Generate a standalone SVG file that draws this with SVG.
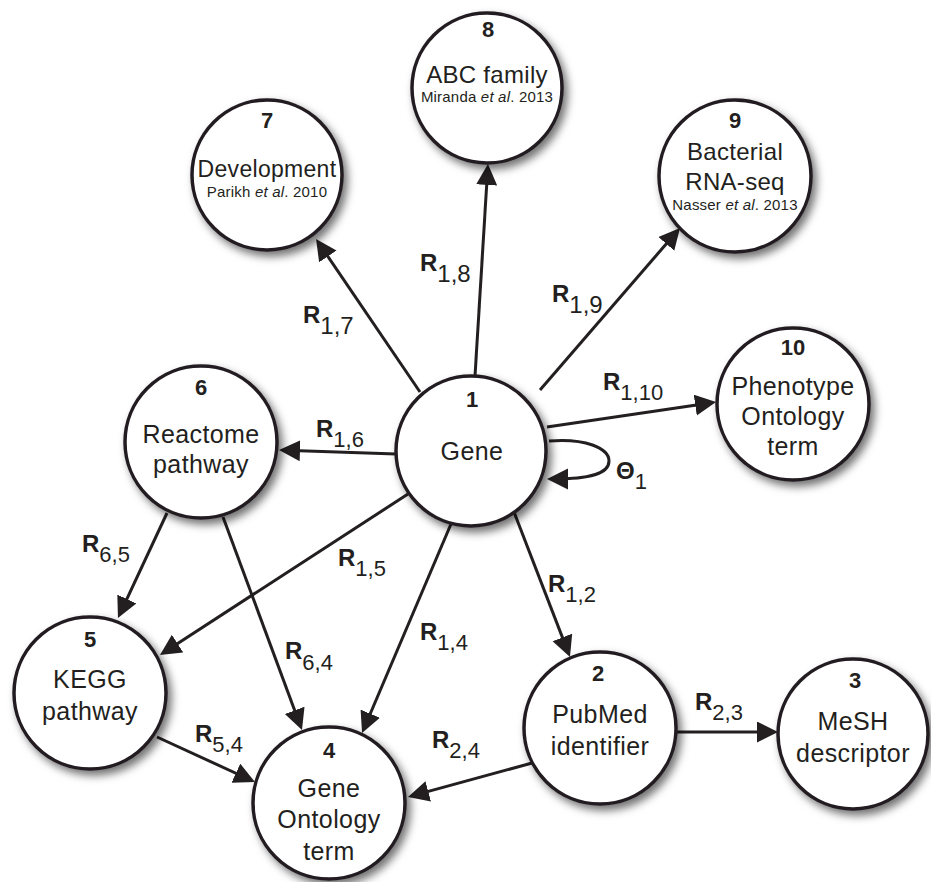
<svg xmlns="http://www.w3.org/2000/svg" width="931" height="882" viewBox="0 0 931 882">
<style>
  .node circle { fill: #ffffff; stroke: #231f20; stroke-width: 3.5; filter: url(#sh); }
  .num { font-family: "Liberation Sans", Arial, sans-serif; font-weight: bold; font-size: 22px; fill: #231f20; text-anchor: middle; }
  .lab { font-family: "Liberation Sans", Arial, sans-serif; font-size: 25px; letter-spacing: 0.4px; fill: #231f20; text-anchor: middle; }
  .lab2 { font-family: "Liberation Sans", Arial, sans-serif; font-size: 24px; letter-spacing: 0.3px; fill: #231f20; text-anchor: middle; }
  .cite { font-family: "Liberation Sans", Arial, sans-serif; font-size: 15px; letter-spacing: 0.2px; fill: #231f20; text-anchor: middle; }
  .edge { fill: none; stroke: #231f20; stroke-width: 3; marker-end: url(#ah); }
  .el { font-family: "Liberation Sans", Arial, sans-serif; fill: #231f20; }
  .R { font-weight: bold; font-size: 24px; }
  .s { font-size: 22px; }
  .sb { font-size: 24px; }
</style>
<defs>
  <filter id="sh" x="-30%" y="-30%" width="170%" height="170%">
    <feDropShadow dx="4" dy="5" stdDeviation="4" flood-color="#000000" flood-opacity="0.55"/>
  </filter>
  <marker id="ah" markerUnits="userSpaceOnUse" markerWidth="22" markerHeight="22" viewBox="0 0 22 22" refX="15" refY="10.5" orient="auto">
    <path d="M0,0 L21,10.5 L0,21 z" fill="#231f20"/>
  </marker>
</defs>

<g id="edges">
  <line class="edge" x1="475" y1="376" x2="487.6" y2="170"/>
  <line class="edge" x1="420" y1="392" x2="319.4" y2="244"/>
  <line class="edge" x1="540" y1="390" x2="676.1" y2="232.5"/>
  <line class="edge" x1="547" y1="427" x2="710.1" y2="402.9"/>
  <line class="edge" x1="396" y1="454" x2="285" y2="450.2"/>
  <line class="edge" x1="408" y1="494" x2="165" y2="651.7"/>
  <line class="edge" x1="167" y1="513" x2="120.5" y2="612.6"/>
  <line class="edge" x1="223" y1="517" x2="299.9" y2="724.4"/>
  <line class="edge" x1="451" y1="524" x2="364.4" y2="727.5"/>
  <line class="edge" x1="514" y1="512" x2="567.8" y2="651.4"/>
  <line class="edge" x1="677" y1="732" x2="772" y2="732"/>
  <line class="edge" x1="532" y1="763" x2="413.8" y2="795.4"/>
  <line class="edge" x1="157" y1="737" x2="249.5" y2="779.5"/>
  <path class="edge" d="M549,441 C585,438 609,448 609,461 C609,474 590,479 553,479"/>
</g>

<g id="edge-labels">
  <text class="el" x="420" y="271"><tspan class="R">R</tspan><tspan class="sb" dy="11">1,8</tspan></text>
  <text class="el" x="303" y="323"><tspan class="R">R</tspan><tspan class="sb" dy="11">1,7</tspan></text>
  <text class="el" x="552" y="302"><tspan class="R">R</tspan><tspan class="sb" dy="11">1,9</tspan></text>
  <text class="el" x="603" y="390"><tspan class="R">R</tspan><tspan class="s" dy="10">1,10</tspan></text>
  <text class="el" x="316" y="437"><tspan class="R">R</tspan><tspan class="s" dy="10">1,6</tspan></text>
  <text class="el" x="82" y="552"><tspan class="R">R</tspan><tspan class="s" dy="10">6,5</tspan></text>
  <text class="el" x="338" y="566"><tspan class="R">R</tspan><tspan class="s" dy="10">1,5</tspan></text>
  <text class="el" x="548" y="592"><tspan class="R">R</tspan><tspan class="s" dy="10">1,2</tspan></text>
  <text class="el" x="285" y="659"><tspan class="R">R</tspan><tspan class="s" dy="11">6,4</tspan></text>
  <text class="el" x="420" y="640"><tspan class="R">R</tspan><tspan class="s" dy="10">1,4</tspan></text>
  <text class="el" x="195" y="742"><tspan class="R">R</tspan><tspan class="s" dy="10">5,4</tspan></text>
  <text class="el" x="432" y="748"><tspan class="R">R</tspan><tspan class="s" dy="10">2,4</tspan></text>
  <text class="el" x="695" y="710"><tspan class="R">R</tspan><tspan class="s" dy="10">2,3</tspan></text>
  <text class="el" x="616" y="479"><tspan class="R">Θ</tspan><tspan class="s" dy="10">1</tspan></text>
</g>

<g id="node1" class="node">
  <circle cx="471" cy="451" r="75"/>
  <text class="num" x="472" y="407">1</text>
  <text class="lab" x="472" y="460">Gene</text>
</g>
<g id="node2" class="node">
  <circle cx="600" cy="728" r="76"/>
  <text class="num" x="598" y="681">2</text>
  <text class="lab" x="600" y="723">PubMed</text>
  <text class="lab" x="600" y="755">identifier</text>
</g>
<g id="node3" class="node">
  <circle cx="853" cy="734" r="75"/>
  <text class="num" x="855" y="688">3</text>
  <text class="lab" x="853" y="730">MeSH</text>
  <text class="lab" x="853" y="762">descriptor</text>
</g>
<g id="node4" class="node">
  <circle cx="329" cy="803" r="76"/>
  <text class="num" x="329" y="758">4</text>
  <text class="lab" x="329" y="797">Gene</text>
  <text class="lab" x="329" y="828">Ontology</text>
  <text class="lab" x="329" y="860">term</text>
</g>
<g id="node5" class="node">
  <circle cx="90" cy="693" r="76"/>
  <text class="num" x="90" y="647">5</text>
  <text class="lab" x="90" y="688">KEGG</text>
  <text class="lab" x="90" y="720">pathway</text>
</g>
<g id="node6" class="node">
  <circle cx="201" cy="442" r="76"/>
  <text class="num" x="201" y="395">6</text>
  <text class="lab" x="201" y="443">Reactome</text>
  <text class="lab" x="201" y="473">pathway</text>
</g>
<g id="node7" class="node">
  <circle cx="267" cy="175" r="75"/>
  <text class="num" x="267" y="128">7</text>
  <text class="lab2" x="267" y="177" style="font-size:23px">Development</text>
  <text class="cite" x="267" y="197">Parikh <tspan font-style="italic">et al</tspan>. 2010</text>
</g>
<g id="node8" class="node">
  <circle cx="487" cy="88" r="75"/>
  <text class="num" x="488" y="37">8</text>
  <text class="lab2" x="487" y="83">ABC family</text>
  <text class="cite" x="487" y="102">Miranda <tspan font-style="italic">et al</tspan>. 2013</text>
</g>
<g id="node9" class="node">
  <circle cx="735" cy="176" r="76"/>
  <text class="num" x="735" y="128">9</text>
  <text class="lab2" x="735" y="160">Bacterial</text>
  <text class="lab2" x="735" y="190">RNA-seq</text>
  <text class="cite" x="735" y="210">Nasser <tspan font-style="italic">et al</tspan>. 2013</text>
</g>
<g id="node10" class="node">
  <circle cx="793" cy="404" r="76"/>
  <text class="num" x="793" y="355">10</text>
  <text class="lab" x="793" y="395">Phenotype</text>
  <text class="lab" x="793" y="425">Ontology</text>
  <text class="lab" x="793" y="455">term</text>
</g>
</svg>
